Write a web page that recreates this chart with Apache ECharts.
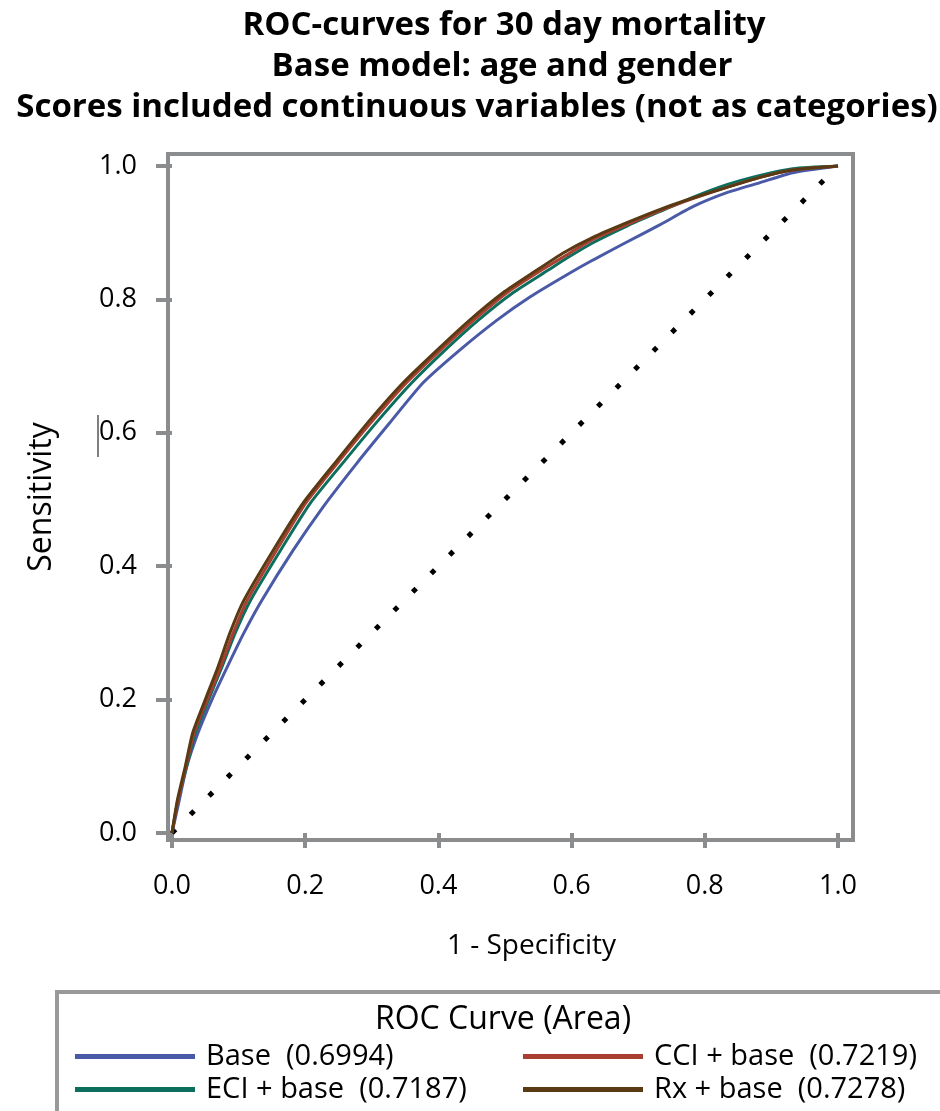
<!DOCTYPE html>
<html>
<head>
<meta charset="utf-8">
<script src="https://cdn.jsdelivr.net/npm/echarts@6/dist/echarts.min.js"></script>
<style>
html,body{margin:0;padding:0;background:#fff;}
#chart{width:940px;height:1111px;}
</style>
</head>
<body>
<div id="chart"></div>
<script>
const titleLines = [
  'ROC-curves for 30 day mortality',
  'Base model: age and gender',
  'Scores included continuous variables (not as categories)'
];
const xTicks = [0, 0.2, 0.4, 0.6, 0.8, 1.0];
const yTicks = [0, 0.2, 0.4, 0.6, 0.8, 1.0];
const legendTitle = 'ROC Curve (Area)';
const seriesNames = ['Base  (0.6994)', 'ECI + base  (0.7187)', 'CCI + base  (0.7219)', 'Rx + base  (0.7278)'];

// [1 - specificity, sensitivity]
const baseCurve = [[0,0],[0.01,0.045],[0.022,0.099],[0.039,0.15],[0.06,0.2],[0.083,0.249],[0.108,0.3],[0.135,0.349],[0.182,0.424],[0.227,0.489],[0.278,0.555],[0.327,0.615],[0.377,0.675],[0.432,0.724],[0.488,0.769],[0.538,0.804],[0.593,0.837],[0.632,0.859],[0.683,0.886],[0.733,0.912],[0.782,0.939],[0.833,0.96],[0.883,0.975],[0.932,0.99],[1,1]];
const eciCurve = [[0,0],[0.009,0.049],[0.022,0.1],[0.035,0.15],[0.055,0.2],[0.075,0.249],[0.095,0.3],[0.118,0.349],[0.163,0.424],[0.208,0.495],[0.26,0.559],[0.31,0.619],[0.36,0.675],[0.41,0.724],[0.46,0.769],[0.512,0.81],[0.565,0.844],[0.593,0.862],[0.632,0.885],[0.683,0.91],[0.733,0.932],[0.782,0.953],[0.833,0.972],[0.883,0.986],[0.932,0.996],[1,1]];
const cciCurve = [[0,0],[0.009,0.049],[0.021,0.1],[0.033,0.15],[0.053,0.2],[0.073,0.249],[0.092,0.3],[0.113,0.349],[0.157,0.424],[0.201,0.495],[0.252,0.559],[0.302,0.619],[0.352,0.675],[0.403,0.724],[0.453,0.769],[0.503,0.81],[0.555,0.844],[0.593,0.867],[0.632,0.89],[0.683,0.912],[0.733,0.933],[0.782,0.951],[0.833,0.968],[0.883,0.983],[0.932,0.994],[1,1]];
const rxCurve = [[0,0],[0.008,0.049],[0.02,0.1],[0.031,0.15],[0.05,0.2],[0.069,0.249],[0.087,0.3],[0.108,0.349],[0.152,0.424],[0.197,0.495],[0.248,0.559],[0.297,0.619],[0.347,0.675],[0.398,0.724],[0.447,0.769],[0.497,0.81],[0.548,0.844],[0.588,0.87],[0.632,0.893],[0.683,0.915],[0.733,0.935],[0.782,0.952],[0.833,0.968],[0.883,0.983],[0.932,0.994],[1,1]];
const refLine = [[0,0],[1,1]];

const colors = ['#4b5aa6', '#0c6e5c', '#a83f30', '#5a3a12'];
const curves = [baseCurve, eciCurve, cciCurve, rxCurve];
const FONT = '"Open Sans", "Noto Sans", sans-serif';
const gray = '#8a8c8e';

const chart = echarts.init(document.getElementById('chart'), null, {renderer: 'canvas'});

const series = curves.map((d, i) => ({
  name: seriesNames[i],
  type: 'line',
  data: d,
  showSymbol: false,
  symbol: 'none',
  smooth: 0.2,
  lineStyle: {color: colors[i], width: 3},
  itemStyle: {color: colors[i]},
  z: 3 + i,
  animation: false
}));
series.push({
  name: 'ref',
  type: 'line',
  data: refLine,
  showSymbol: false,
  symbol: 'none',
  lineStyle: {color: '#000', width: 5, type: [5, 21.2], cap: 'butt'},
  z: 2,
  animation: false
});

const titleX = [499, 497, 472];
const titleY = [4, 45, 86];

// legend slot positions: [left, top] for Base, ECI, CCI, Rx
const legendLeft = [70, 70, 518, 518];
const legendTop = [1037, 1070, 1037, 1070];

chart.setOption({
  animation: false,
  backgroundColor: '#fff',
  title: titleLines.map((t, i) => ({
    text: t,
    left: titleX[i],
    top: titleY[i],
    textAlign: 'center',
    textStyle: {fontFamily: FONT, fontSize: 33, fontWeight: 'bold', color: '#000'}
  })),
  grid: {
    left: 168, top: 154, width: 685, height: 686,
    show: true, borderColor: gray, borderWidth: 4, backgroundColor: 'transparent'
  },
  xAxis: {
    type: 'value', min: -0.006, max: 1.0225,
    name: '1 - Specificity', nameLocation: 'middle', nameGap: 92,
    nameTextStyle: {fontFamily: FONT, fontSize: 28, color: '#000', padding: [0, 0, 0, 42]},
    axisLine: {show: false},
    splitLine: {show: false},
    axisTick: {show: true, length: 15, customValues: xTicks, lineStyle: {color: gray, width: 4}},
    axisLabel: {customValues: xTicks, margin: 33, fontFamily: FONT, fontSize: 27, color: '#000',
      formatter: v => v.toFixed(1)}
  },
  yAxis: {
    type: 'value', min: -0.0105, max: 1.018,
    name: 'Sensitivity', nameLocation: 'middle', nameGap: 110, nameRotate: 90,
    nameTextStyle: {fontFamily: FONT, fontSize: 32, color: '#000'},
    axisLine: {show: false},
    splitLine: {show: false},
    axisTick: {show: true, length: 16, customValues: yTicks, lineStyle: {color: gray, width: 4}},
    axisLabel: {customValues: yTicks, margin: 31, fontFamily: FONT, fontSize: 27, color: '#000',
      formatter: v => v.toFixed(1)}
  },
  legend: seriesNames.map((n, i) => ({
    data: [n],
    orient: 'horizontal', left: legendLeft[i], top: legendTop[i],
    icon: 'rect', itemWidth: 120, itemHeight: 5,
    textStyle: {fontFamily: FONT, fontSize: 29, color: '#000', padding: [0, 0, 0, 6]},
    selectedMode: false
  })),
  graphic: [
    {type: 'rect', shape: {x: 57, y: 992, width: 920, height: 200},
      style: {fill: 'none', stroke: '#999', lineWidth: 4}, silent: true},
    {type: 'text', x: 503, y: 1020,
      style: {text: legendTitle, fontFamily: FONT, fontSize: 32, fill: '#000', align: 'center', verticalAlign: 'middle'}},
    {type: 'line', shape: {x1: 98, y1: 415, x2: 98, y2: 457}, style: {stroke: '#000', lineWidth: 1}}
  ],
  series: series
});
</script>
</body>
</html>
